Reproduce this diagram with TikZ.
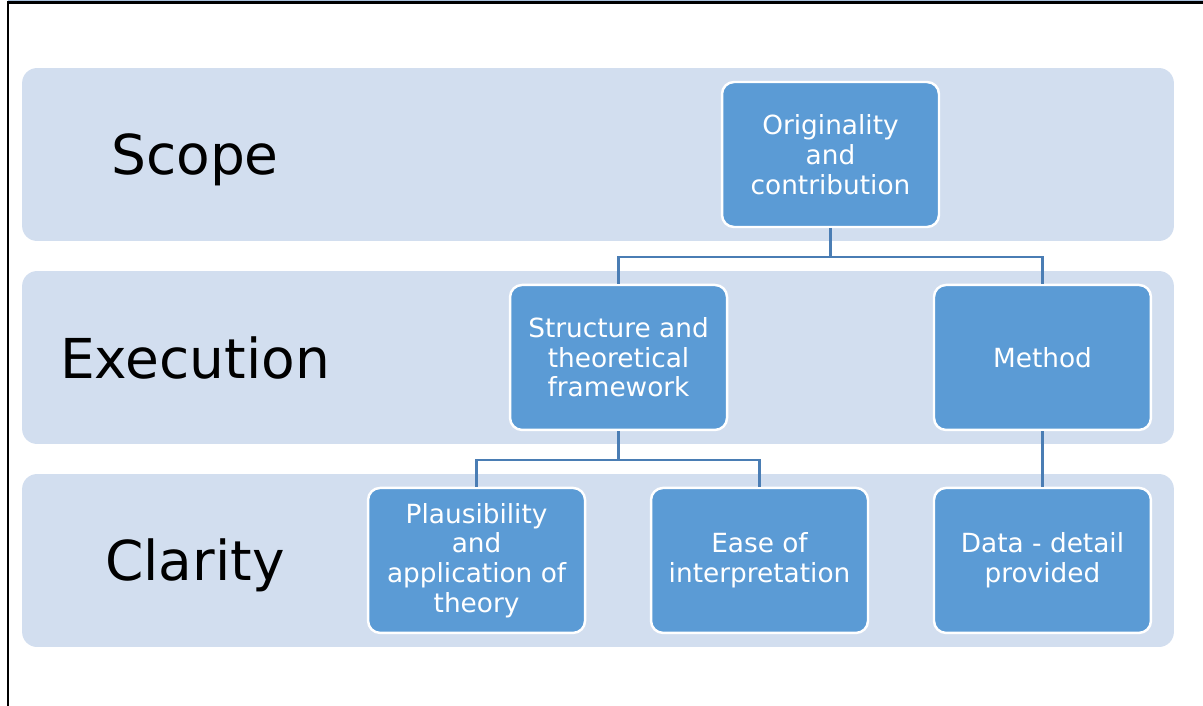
\documentclass[tikz,border=0pt]{standalone}
\usepackage{fontspec}
\setmainfont{DejaVu Sans}
\usepackage{tikz}
\usetikzlibrary{positioning}

\definecolor{bandblue}{HTML}{D2DEEF}
\definecolor{boxblue}{HTML}{5B9BD5}
\definecolor{linkblue}{HTML}{4A7DB4}

\begin{document}
\begin{tikzpicture}[x=0.02cm, y=-0.02cm, node distance=4.06cm]
    % Define styles
    \tikzstyle{band} = [rectangle, rounded corners=0.3cm, fill=bandblue, minimum width=23.04cm, minimum height=3.46cm, inner sep=0pt]
    \tikzstyle{level} = [font=\fontsize{31.3}{36}\selectfont, text=black]
    \tikzstyle{box} = [rectangle, rounded corners=0.24cm, draw=white, line width=1.4pt, fill=boxblue, text=white, align=center, minimum width=4.34cm, minimum height=2.9cm, font=\fontsize{15}{16.9}\selectfont]
    \tikzstyle{link} = [draw=linkblue, line width=1.3pt]

    \useasboundingbox (0,0) rectangle (1203,706);

    % Frame
    \draw[bandblue!70!linkblue, line width=1pt] (8,0.5) -- (1203,0.5);
    \draw[black, line width=1.2pt] (8,706) -- (8,2.5) -- (1203,2.5);

    % Bands
    \node[band] (scopeband) at (598,154.5) {};
    \node[band] (execband) at (598,357.5) {};
    \node[band] (clarband) at (598,560.5) {};

    % Level labels
    \node[level] (scope) at (195,160) {Scope};
    \node[level] (execution) at (195,358) {Execution};
    \node[level] (clarity) at (195,565) {Clarity};

    % Boxes
    \node[box] (orig) at (830.5,154.5) {Originality\\and\\contribution};
    \node[box, below of=orig, xshift=-4.24cm] (struct) {Structure and\\theoretical\\framework};
    \node[box, below of=orig, xshift=4.24cm] (method) {Method};
    \node[box, below of=struct, xshift=-2.84cm] (plaus) {Plausibility\\and\\application of\\theory};
    \node[box, below of=struct, xshift=2.82cm] (ease) {Ease of\\interpretation};
    \node[box, below of=method] (data) {Data - detail\\provided};

    % Relations
    \draw[link] (orig.south) -- ++(0,29) -| (struct.north);
    \draw[link] (orig.south) -- ++(0,29) -| (method.north);
    \draw[link] (struct.south) -- ++(0,29) -| (plaus.north);
    \draw[link] (struct.south) -- ++(0,29) -| (ease.north);
    \draw[link] (method) -- (data);

\end{tikzpicture}
\end{document}
